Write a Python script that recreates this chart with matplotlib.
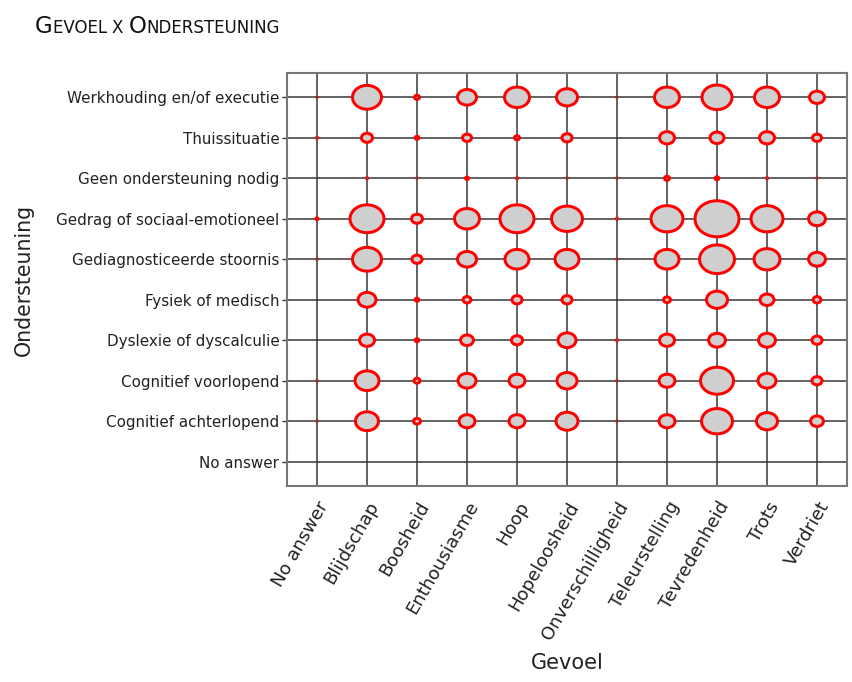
import numpy as np
import matplotlib
matplotlib.use("Agg")
import matplotlib.pyplot as plt
from matplotlib.path import Path
from matplotlib.transforms import Affine2D
from matplotlib.offsetbox import TextArea, HPacker, AnchoredOffsetbox

gevoel = ["No answer", "Blijdschap", "Boosheid", "Enthousiasme", "Hoop", "Hopeloosheid",
          "Onverschilligheid", "Teleurstelling", "Tevredenheid", "Trots", "Verdriet"]
ondersteuning = ["Werkhouding en/of executie", "Thuissituatie", "Geen ondersteuning nodig",
                 "Gedrag of sociaal-emotioneel", "Gediagnosticeerde stoornis", "Fysiek of medisch",
                 "Dyslexie of dyscalculie", "Cognitief voorlopend", "Cognitief achterlopend",
                 "No answer"]

# counts per (ondersteuning row, gevoel column); bubble area ~ count
counts = [
    [1, 114, 7, 54, 87, 64, 1, 87, 121, 87, 36],    # Werkhouding
    [2, 22, 5, 16, 7, 19, 0, 36, 32, 36, 16],       # Thuissituatie
    [0, 2, 1, 4, 2, 1, 1, 7, 5, 2, 1],              # Geen ondersteuning
    [3, 152, 22, 87, 152, 128, 2, 136, 245, 136, 44],  # Gedrag
    [1, 114, 19, 54, 81, 81, 1, 81, 160, 93, 44],   # Gediagnosticeerde
    [0, 49, 5, 13, 19, 19, 0, 11, 64, 32, 13],      # Fysiek
    [0, 36, 5, 28, 22, 49, 2, 36, 44, 44, 19],      # Dyslexie
    [1, 81, 9, 49, 40, 59, 1, 40, 144, 49, 19],     # Cognitief voorlopend
    [1, 75, 11, 40, 40, 69, 1, 40, 128, 64, 28],    # Cognitief achterlopend
    [0, 0, 0, 0, 0, 0, 0, 0, 0, 0, 0],              # No answer
]

plt.rcParams['font.family'] = ['DejaVu Sans']

fig = plt.figure(figsize=(8.53, 6.82), dpi=100)
ax = fig.add_axes([287/853, 1-486/682, 560/853, 413/682])

# ellipse marker (bubbles are wider than tall)
aspect = 1.22
ell = Path.unit_circle().transformed(Affine2D().scale(aspect, 1.0))

lw_px = 3.0
px2pt = 72/100
xs, ys, ms = [], [], []
for r, row in enumerate(counts):
    for c, v in enumerate(row):
        if v <= 0:
            continue
        d_px = 3.0*np.sqrt(v)
        inner = max(d_px - lw_px, 0.6)
        xs.append(c); ys.append(r); ms.append((inner*px2pt)**2)

# grid
for i in range(len(gevoel)):
    ax.axvline(i, color='#383838', lw=1.1, zorder=1)
for j in range(len(ondersteuning)):
    ax.axhline(j, color='#383838', lw=1.1, zorder=1)

ax.scatter(xs, ys, s=ms, marker=ell, facecolor='#cfcfcf', edgecolor='#ff0000',
           linewidth=lw_px*px2pt, zorder=3)

ax.set_xlim(-0.6, len(gevoel)-0.4)
ax.set_ylim(len(ondersteuning)-0.4, -0.6)
ax.set_xticks(range(len(gevoel)))
ax.set_xticklabels(gevoel, rotation=60, ha='right', rotation_mode='anchor', fontsize=13,
                   color='#222222')
ax.set_yticks(range(len(ondersteuning)))
ax.set_yticklabels(ondersteuning, fontsize=10.9, color='#222222')
ax.tick_params(axis='x', length=0, pad=9)
ax.tick_params(axis='y', length=3.5, width=1.0, color='#383838', pad=2)
for s in ax.spines.values():
    s.set_color('#777777')
    s.set_linewidth(1.5)

ax.set_xlabel("Gevoel", fontsize=15, color='#222222')
ax.xaxis.set_label_coords((567-287)/560, -(663-486)/413)
ax.set_ylabel("Ondersteuning", fontsize=14.8, color='#222222')
ax.yaxis.set_label_coords(-(287-24)/560, 0.5)
ax.xaxis.label.set_va('center')
ax.yaxis.label.set_va('center')

# small-caps style title
pieces = [("G", 16.5), ("EVOEL ", 12), ("X ", 12), ("O", 16.5), ("NDERSTEUNING", 12)]
boxes = [TextArea(t, textprops=dict(fontsize=fs, color='#111111'))
         for t, fs in pieces]
pack = HPacker(children=boxes, align="baseline", pad=0, sep=0)
anch = AnchoredOffsetbox(loc='lower left', child=pack, pad=0, borderpad=0, frameon=False,
                         bbox_to_anchor=(35/853, 1-38/682), bbox_transform=fig.transFigure)
fig.add_artist(anch)

fig.savefig("out.png", dpi=100)
